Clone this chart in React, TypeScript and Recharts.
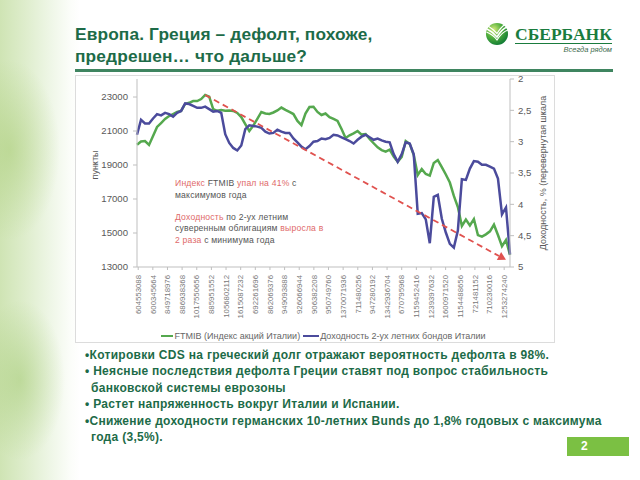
import React from 'react';
import { LineChart, Line, XAxis, YAxis, Legend, ReferenceLine } from 'recharts';

// x-axis category labels (as printed on the original chart)
const xLabels = [
  '604553088', '600345664', '849718976', '886938368', '1017550656', '885951552',
  '1056802112', '1615087232', '692261696', '862069376', '949093888', '926066944',
  '906382208', '950749760', '1370071936', '711480256', '947280192', '1342936704',
  '670795968', '1159452416', '1239397632', '1600971520', '1154488656', '721481152',
  '710230016', '1253274240',
];

// FTMIB index, points (left axis)
const ftmib = [
  20190, 20380, 20410, 20180, 20710, 21240, 21470, 21710, 21880, 22000,
  22120, 22180, 22590, 22660, 22760, 22760, 22880, 23120, 23020, 22290,
  22190, 22240, 22190, 22210, 22180, 22060, 21820, 21410, 21000, 21320,
  21710, 22120, 22030, 22000, 22090, 22210, 22380, 22240, 22120, 22000,
  21590, 21350, 22030, 22410, 22430, 22120, 21940, 22030, 21820, 21710,
  21590, 21120, 20590, 20750, 20860, 21000, 20790, 20820, 20530, 20280,
  20040, 19880, 19790, 19910, 19500, 19190, 19470, 20410, 20240, 19590,
  18410, 18760, 18470, 18380, 19120, 19290, 18880, 18440, 17970, 17180,
  16530, 15410, 15790, 15440, 15820, 14880, 14790, 14920, 15100, 15490,
  14880, 14220, 14590, 13710,
];

// Italy 2y bond yield, % (right axis, inverted)
const yield2y = [
  2.89, 2.65, 2.71, 2.71, 2.63, 2.56, 2.58, 2.54, 2.56, 2.6,
  2.54, 2.51, 2.39, 2.4, 2.43, 2.46, 2.46, 2.44, 2.48, 2.52,
  2.51, 2.54, 2.88, 3.02, 3.1, 3.14, 3.06, 2.8, 2.74, 2.75,
  2.76, 2.78, 2.84, 2.87, 2.86, 2.81, 2.84, 2.86, 2.86, 2.95,
  3.01, 3.08, 3.12, 3.07, 3.0, 2.99, 2.95, 2.96, 2.94, 2.89,
  2.9, 2.93, 2.96, 2.99, 3.03, 2.97, 2.92, 2.89, 2.93, 2.97,
  2.95, 2.98, 3.0, 3.01, 3.2, 3.32, 3.2, 3.01, 3.03, 3.2,
  4.15, 4.14, 4.24, 4.62, 3.88, 3.85, 4.23, 4.45, 4.63, 4.69,
  4.42, 3.6, 3.61, 3.43, 3.31, 3.32, 3.37, 3.37, 3.4, 3.43,
  3.59, 4.16, 4.05, 4.8,
];

const leftTicks = [13000, 15000, 17000, 19000, 21000, 23000];
const rightTicks = [2, 2.5, 3, 3.5, 4, 4.5, 5];

// dashed trend arrow: from the year high to the end of the period
const trendFrom = { i: 17, v: 23120 };
const trendTo = { i: 92, v: 13420 };

const bullets = [
  ['•Котировки CDS на греческий долг отражают вероятность дефолта в 98%.'],
  ['• Неясные последствия дефолта Греции ставят под вопрос стабильность', 'банковской системы еврозоны'],
  ['• Растет напряженность вокруг Италии и Испании.'],
  ['•Снижение доходности германских 10-летних Bunds до 1,8% годовых с максимума', 'года (3,5%).'],
];

const GREEN = '#55a84e';
const BLUE = '#4b4b9c';
const RED = '#e0524f';
const PINK = '#e06a6a';
const DARK_GREEN = '#1d6b48';
const AXIS = '#bfbfbf';
const FONT = '"Liberation Sans", Arial, sans-serif';

const data = ftmib.map((v, i) => ({ i, ftmib: v, yld: yield2y[i] }));
const labelShift = 0.3;
const labelStep = 3.65;
const xTicks = xLabels.map((_, k) => labelShift + k * labelStep);

const XTick = (props: any) => {
  const { x, y, payload } = props;
  const k = xTicks.indexOf(payload.value);
  return (
    <text
      transform={`translate(${x},${y + 3}) rotate(-90)`}
      textAnchor="end"
      dy="0.35em"
      fontSize={7.8}
      fill="#777"
      fontFamily={FONT}
    >
      {xLabels[k]}
    </text>
  );
};

const ArrowShape = (props: any) => {
  const { x1, y1, x2, y2 } = props;
  const a = Math.atan2(y2 - y1, x2 - x1);
  const len = 8;
  const w = 4.5;
  const bx = x2 - len * Math.cos(a);
  const by = y2 - len * Math.sin(a);
  const px = -Math.sin(a) * w;
  const py = Math.cos(a) * w;
  return (
    <g>
      <line x1={x1} y1={y1} x2={bx} y2={by} stroke={RED} strokeWidth={1.8} strokeDasharray="6 4" />
      <polygon points={`${x2},${y2} ${bx + px},${by + py} ${bx - px},${by - py}`} fill={RED} />
    </g>
  );
};

const LegendBox = () => (
  <div
    style={{
      display: 'flex',
      justifyContent: 'center',
      alignItems: 'center',
      height: 18,
      fontSize: 9,
      color: '#666',
      paddingLeft: 17,
      fontFamily: FONT,
    }}
  >
    <span style={{ display: 'inline-block', width: 12, height: 2, background: GREEN, marginRight: 1 }} />
    <span style={{ marginRight: 3 }}>FTMIB (Индекс акций Италии)</span>
    <span style={{ display: 'inline-block', width: 16, height: 2, background: BLUE, marginRight: 1 }} />
    <span>Доходность 2-ух летних бондов Италии</span>
  </div>
);

const VText = ({ x, y, text, size }: { x: number; y: number; text: string; size: number }) => (
  <div
    style={{
      position: 'absolute',
      left: x,
      top: y,
      transform: 'translate(-50%, -50%) rotate(-90deg)',
      whiteSpace: 'nowrap',
      fontSize: size,
      color: '#595959',
      fontFamily: FONT,
    }}
  >
    {text}
  </div>
);

const Logo = () => (
  <div style={{ position: 'absolute', left: 484, top: 21 }}>
    <svg width={26} height={26} style={{ position: 'absolute', left: 0, top: 0 }}>
      <defs>
        <radialGradient id="sb" cx="35%" cy="30%" r="75%">
          <stop offset="0" stopColor="#d4ea7a" />
          <stop offset="0.5" stopColor="#4fae3c" />
          <stop offset="1" stopColor="#0f7a35" />
        </radialGradient>
      </defs>
      <circle cx={13} cy={13} r={11} fill="url(#sb)" />
      <path d="M3 8 Q9 11 13 16 Q18 8 23 6" stroke="#fff" strokeWidth={1.6} fill="none" />
      <path d="M2.5 11 Q9 13.5 13 19 Q18 11 24 9" stroke="#fff" strokeWidth={1.2} fill="none" />
      <path d="M4 5 Q9 8 13 12.5 Q17 6 21 3.5" stroke="#fff" strokeWidth={1.2} fill="none" />
    </svg>
    <div
      style={{
        position: 'absolute',
        left: 31,
        top: 4,
        fontFamily: '"Liberation Serif", serif',
        fontWeight: 'bold',
        fontSize: 17.5,
        color: '#1a7c3e',
        lineHeight: '18px',
        whiteSpace: 'nowrap',
      }}
    >
      СБЕРБАНК
    </div>
    <div style={{ position: 'absolute', left: 31, top: 22, width: 97, height: 1, background: '#1a7c3e' }} />
    <div
      style={{
        position: 'absolute',
        left: 31,
        top: 24,
        width: 97,
        textAlign: 'right',
        fontStyle: 'italic',
        fontSize: 7.5,
        color: '#3c6a4c',
        fontFamily: FONT,
      }}
    >
      Всегда рядом
    </div>
  </div>
);

export default function App() {
  return (
    <div
      style={{
        position: 'absolute',
        left: 0,
        top: 0,
        width: 640,
        height: 480,
        overflow: 'hidden',
        fontFamily: FONT,
        background:
          'radial-gradient(ellipse 50px 90px at 10px 150px, rgba(170,205,120,0.55), rgba(255,255,255,0)), ' +
          'radial-gradient(ellipse 45px 80px at 20px 380px, rgba(160,200,110,0.5), rgba(255,255,255,0)), ' +
          'linear-gradient(90deg, #cfe4b4 0px, #deedcc 25px, #eef6e6 50px, #fbfdf9 70px, #ffffff 80px)',
      }}
    >
      {/* title */}
      <div
        style={{
          position: 'absolute',
          left: 75,
          top: 23,
          fontSize: 17.3,
          letterSpacing: 0.15,
          fontWeight: 'bold',
          lineHeight: '22px',
          color: DARK_GREEN,
          whiteSpace: 'nowrap',
        }}
      >
        Европа. Греция – дефолт, похоже,
        <br />
        предрешен… что дальше?
      </div>
      <div style={{ position: 'absolute', left: 75, top: 69, width: 538, height: 2.5, background: '#3f8560' }} />
      <Logo />

      {/* chart frame */}
      <div
        style={{
          position: 'absolute',
          left: 75,
          top: 75,
          width: 480,
          height: 268,
          border: '1px solid #dcdcdc',
          background: '#fff',
          boxSizing: 'border-box',
        }}
      />
      <div style={{ position: 'absolute', left: 75, top: 67 }}>
        <LineChart width={480} height={278} data={data} margin={{ top: 12, right: 0, bottom: 0, left: 0 }}>
          <XAxis
            type="number"
            dataKey="i"
            domain={[0, 93]}
            ticks={xTicks}
            interval={0}
            height={60}
            tick={<XTick />}
            tickSize={3}
            axisLine={{ stroke: AXIS }}
            tickLine={{ stroke: AXIS }}
          />
          <YAxis
            yAxisId="left"
            domain={[13000, 24060]}
            ticks={leftTicks}
            interval={0}
            width={62}
            tickSize={4}
            tickMargin={5}
            tick={{ fontSize: 9.6, fill: '#595959', fontFamily: FONT }}
            axisLine={{ stroke: AXIS }}
            tickLine={{ stroke: AXIS }}
          />
          <YAxis
            yAxisId="right"
            orientation="right"
            reversed
            domain={[2, 5]}
            ticks={rightTicks}
            interval={0}
            width={45}
            tickSize={4}
            tickMargin={4}
            tickFormatter={(v: number) => String(v).replace('.', ',')}
            tick={{ fontSize: 9.6, fill: '#595959', fontFamily: FONT }}
            axisLine={{ stroke: AXIS }}
            tickLine={{ stroke: AXIS }}
          />
          <Legend verticalAlign="bottom" height={18} content={() => <LegendBox />} />
          <Line
            yAxisId="left"
            type="linear"
            dataKey="ftmib"
            stroke={GREEN}
            strokeWidth={2.5}
            dot={false}
            isAnimationActive={false}
          />
          <Line
            yAxisId="right"
            type="linear"
            dataKey="yld"
            stroke={BLUE}
            strokeWidth={2.5}
            dot={false}
            isAnimationActive={false}
          />
          <ReferenceLine
            yAxisId="left"
            segment={[
              { x: trendFrom.i, y: trendFrom.v },
              { x: trendTo.i, y: trendTo.v },
            ]}
            shape={ArrowShape}
          />
        </LineChart>
      </div>
      <VText x={95} y={165} text="пункты" size={9} />
      <VText x={543} y={173} text="Доходность, % (перевернутая шкала" size={9} />

      {/* annotation */}
      <div
        style={{
          position: 'absolute',
          left: 175,
          top: 178,
          fontSize: 8.6,
          lineHeight: '11.5px',
          color: '#555',
          letterSpacing: 0.2,
          whiteSpace: 'nowrap',
        }}
      >
        <div>
          <span style={{ color: PINK }}>Индекс</span> FTMIB <span style={{ color: PINK }}>упал на 41%</span> с
        </div>
        <div>максимумов года</div>
        <div style={{ marginTop: 10.5 }}>
          <span style={{ color: PINK }}>Доходность</span> по 2-ух летним
        </div>
        <div>
          суверенным облигациям <span style={{ color: PINK }}>выросла в</span>
        </div>
        <div>
          <span style={{ color: PINK }}>2 раза</span> с минимума года
        </div>
      </div>

      {/* bullets */}
      <div
        style={{
          position: 'absolute',
          left: 85,
          top: 347,
          fontSize: 12,
          letterSpacing: 0.3,
          fontWeight: 'bold',
          lineHeight: '16.4px',
          color: DARK_GREEN,
          whiteSpace: 'nowrap',
        }}
      >
        {bullets.map((b, k) => (
          <div key={k}>
            {b.map((line, j) => (
              <div key={j} style={{ paddingLeft: j > 0 ? 6 : 0 }}>
                {line}
              </div>
            ))}
          </div>
        ))}
      </div>

      {/* page number */}
      <div
        style={{
          position: 'absolute',
          left: 567,
          top: 437,
          width: 62,
          height: 19,
          background: '#7bc043',
          color: '#fff',
          fontWeight: 'bold',
          fontSize: 12,
          lineHeight: '19px',
          paddingLeft: 14,
          boxSizing: 'border-box',
        }}
      >
        2
      </div>
    </div>
  );
}
